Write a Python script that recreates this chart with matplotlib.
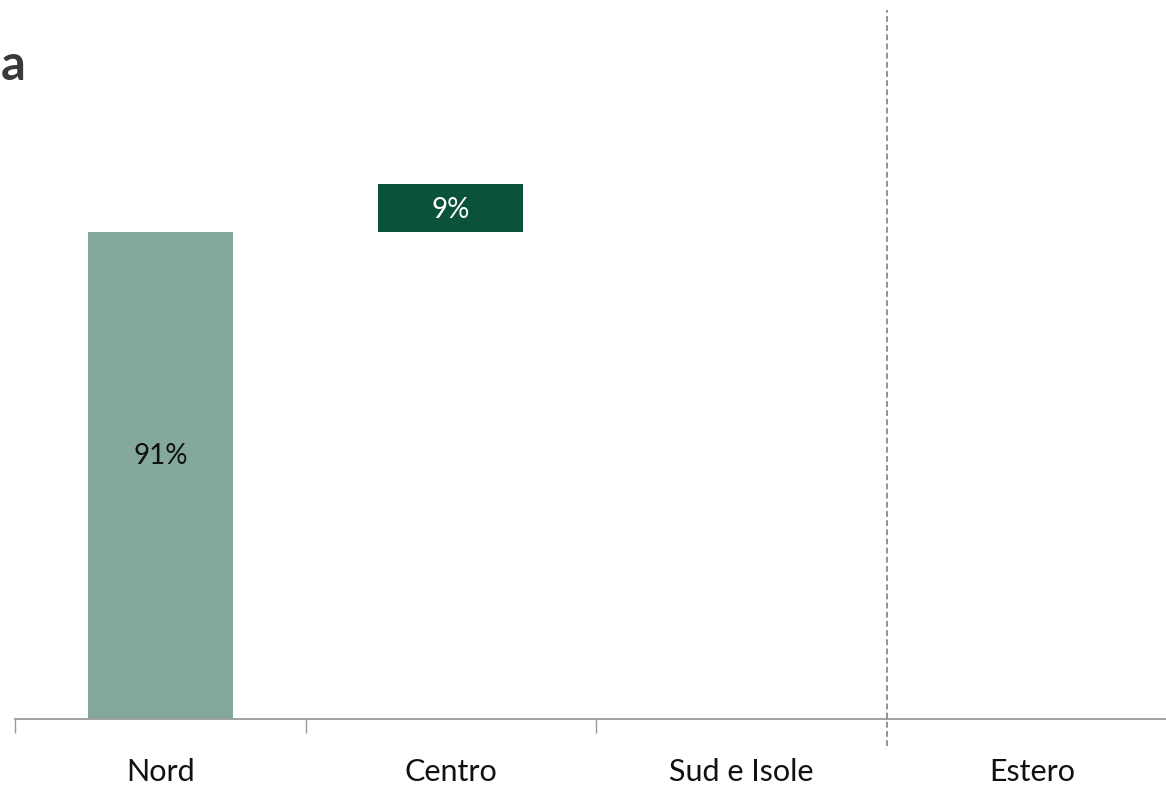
import numpy as np
import matplotlib
matplotlib.use("Agg")
import matplotlib.pyplot as plt

plt.rcParams['font.family'] = ['Lato', 'DejaVu Sans']

categories = ["Nord", "Centro", "Sud e Isole", "Estero"]
bases = [0, 91, 0, 0]
values = [91, 9, 0, 0]
labels = ["91%", "9%", "", ""]
bar_colors = ["#85a89c", "#0b523a", "#85a89c", "#85a89c"]
label_colors = ["#111111", "#ffffff", "#111111", "#111111"]

W, H = 1166, 785
fig = plt.figure(figsize=(W / 100, H / 100), dpi=100)

# axes: left at 15px, baseline at 719px, category width ~290.5px
cat_w = 290.5
left = 15
base_px = 719
ax = fig.add_axes([left / W, (H - base_px) / H, 4 * cat_w / W, base_px / H])
px_per_unit = (719 - 184) / 100.0
ax.set_ylim(0, base_px / px_per_unit)
ax.set_xlim(-0.5, 3.5)

x = np.arange(len(categories))
ax.bar(x, values, bottom=bases, width=0.5, color=bar_colors, zorder=2)
# where inside each bar its label sits (fraction of bar height)
label_frac = [0.54, 0.45, 0.5, 0.5]
for xi, b, v, lab, c, f in zip(x, bases, values, labels, label_colors,
                               label_frac):
    if lab:
        ax.text(xi, b + v * f, lab, ha='center', va='center',
                fontsize=20, color=c, zorder=3)

# dashed separator before "Estero"
top_y = (base_px - 10) / px_per_unit
bot_y = -(746 - base_px) / px_per_unit
ax.plot([2.5, 2.5], [bot_y, top_y], ls=(0, (3.5, 2)), color="#808080",
        lw=1.2, clip_on=False, zorder=4)

for s in ['top', 'right', 'left']:
    ax.spines[s].set_visible(False)
ax.spines['bottom'].set_color("#9a9a9a")
ax.spines['bottom'].set_linewidth(1.3)
ax.set_yticks([])

ax.set_xticks([-0.5, 0.5, 1.5])
ax.set_xticklabels([])
ax.tick_params(axis='x', which='major', length=10, width=1.0, color="#9a9a9a")
ax.set_xticks(x, categories, minor=True)
ax.tick_params(axis='x', which='minor', length=0, pad=28, labelsize=22,
               labelcolor="#111111")

fig.text(25 / W, 1 - 66 / H, "a", ha='right', va='center', fontsize=35,
         fontweight='bold', color="#3a3a3a")

fig.savefig("out.png", dpi=100)
